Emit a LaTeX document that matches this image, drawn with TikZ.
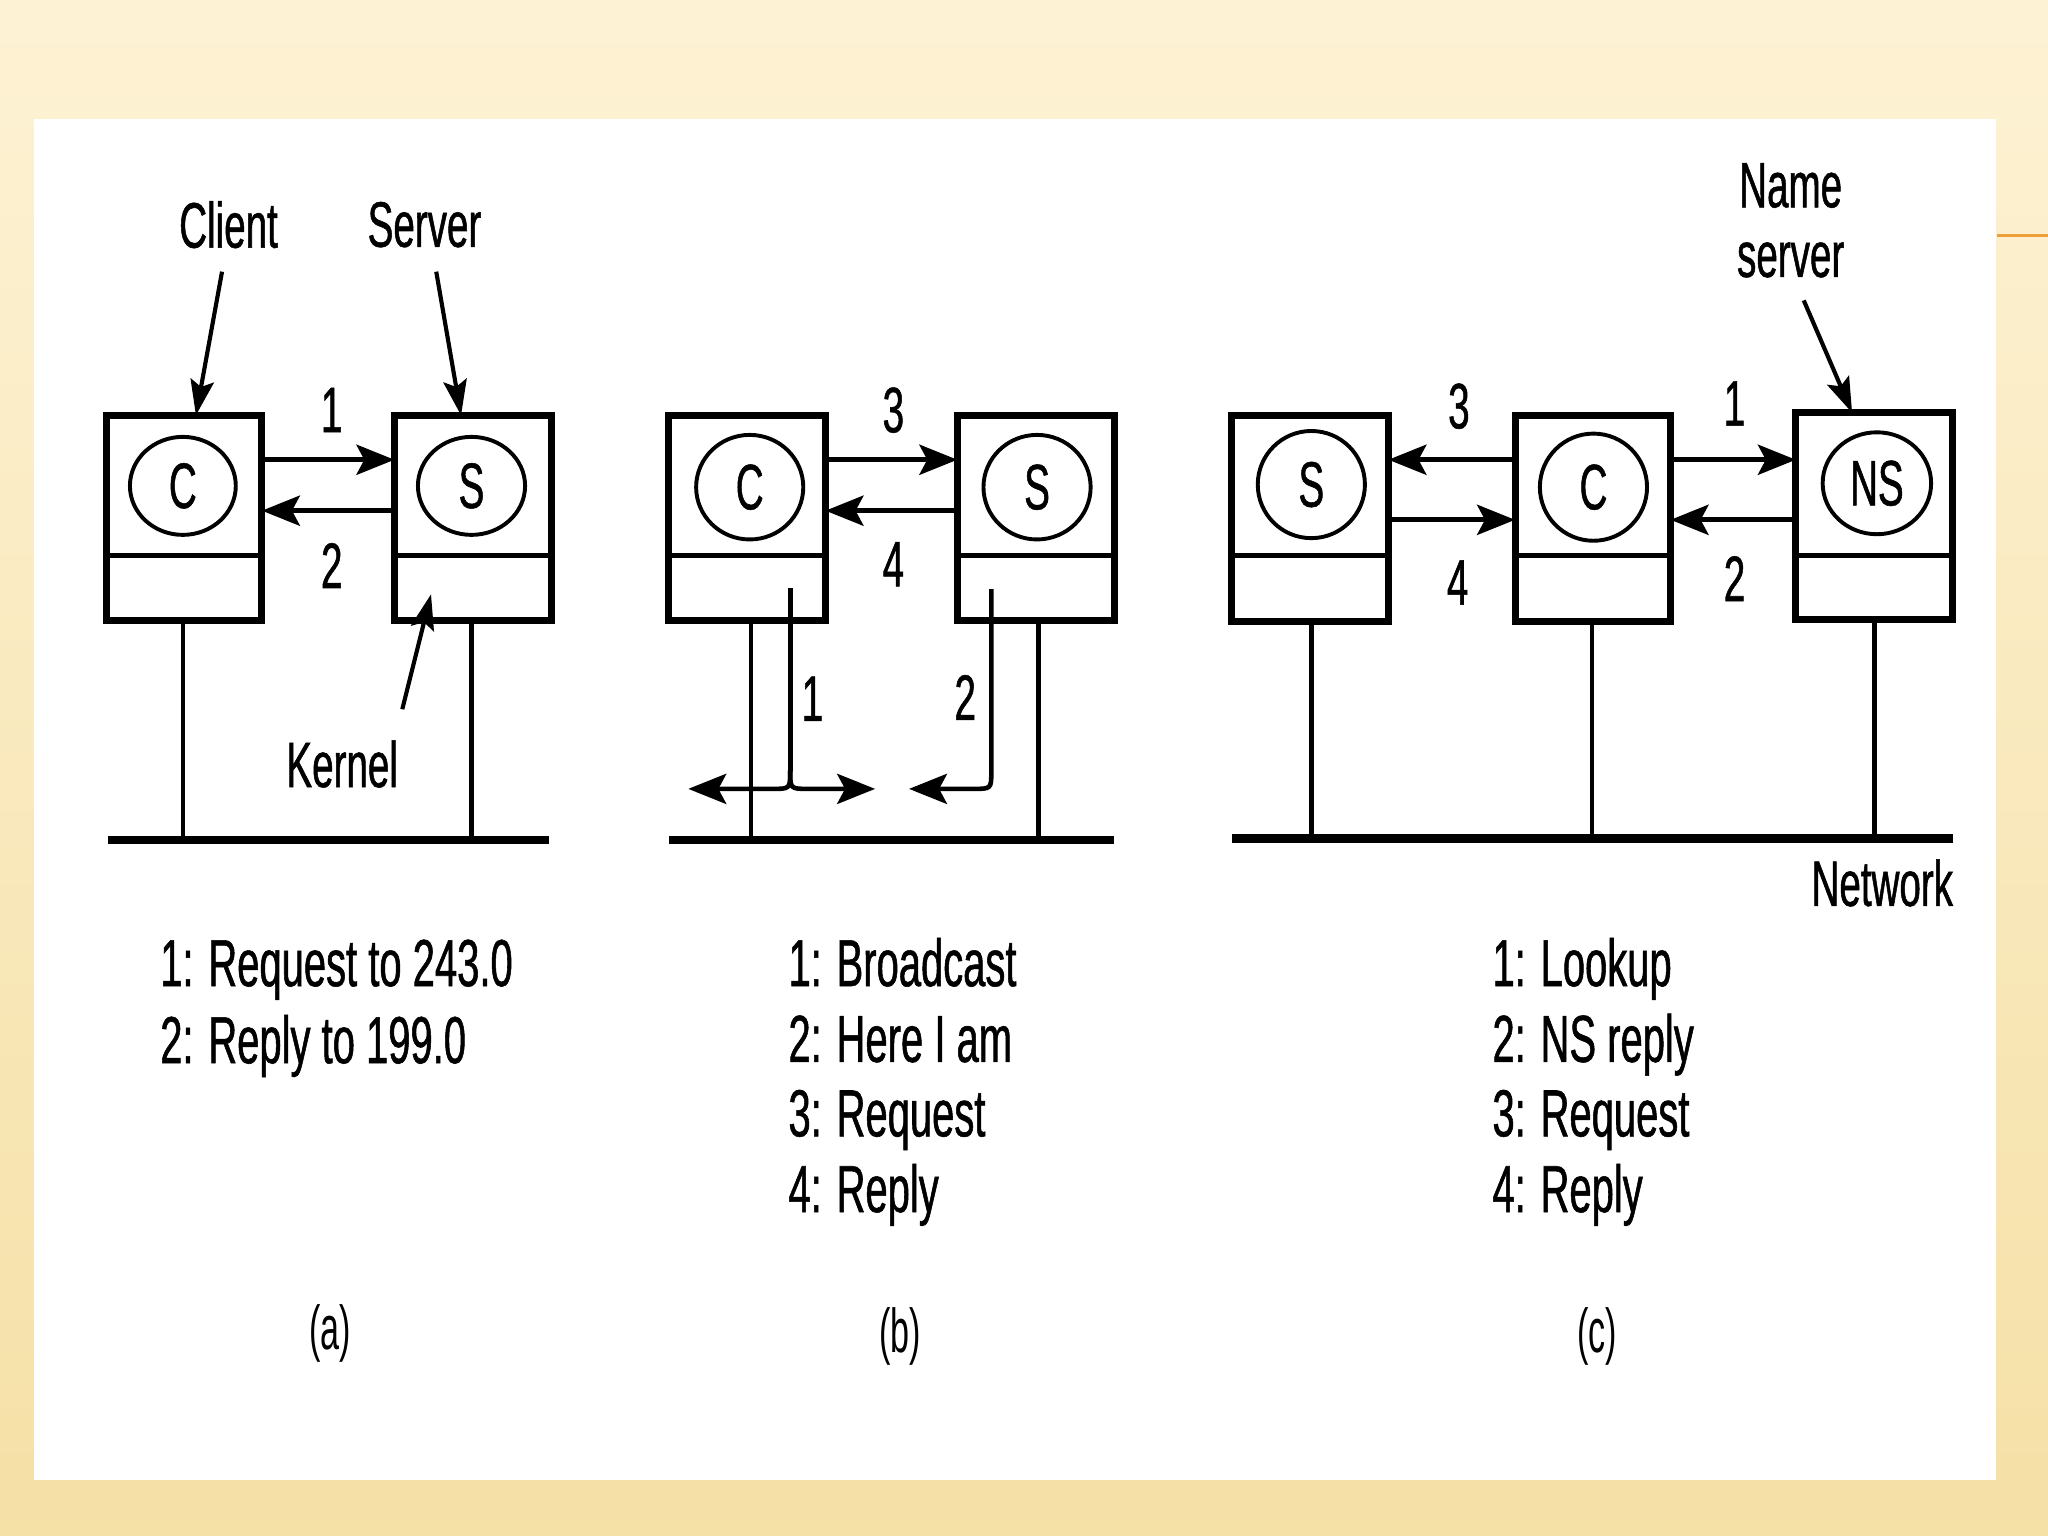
\documentclass[tikz,border=0pt]{standalone}
\usepackage{fontspec}
\newfontfamily\cond[FakeStretch=0.6,FakeBold=0.8]{Liberation Sans}
\newfontfamily\condthin[FakeStretch=0.55]{Liberation Sans}
\usetikzlibrary{arrows.meta,shapes.geometric}
\definecolor{bgtop}{RGB}{253,242,212}
\definecolor{bgbot}{RGB}{245,224,166}
\definecolor{orangeline}{RGB}{238,158,58}
\newcommand\lblfont{\cond\fontsize{14}{16}\selectfont}
\newcommand\legfont{\cond\fontsize{14.5}{17}\selectfont}
\newcommand\capfont{\condthin\fontsize{13.5}{16}\selectfont}
\begin{document}
\begin{tikzpicture}[x=0.01cm, y=-0.01cm,
  hostbox/.style={draw, line width=1.5pt, minimum width=1.19cm, minimum height=1.57cm, inner sep=0pt, outer sep=0pt},
  proc/.style={draw, ellipse, line width=0.85pt, minimum width=0.82cm, minimum height=0.8cm, inner sep=0pt, font=\lblfont},
  conn/.style={line width=1.1pt, -{Stealth[length=2.9mm,width=2.3mm,inset=0.6mm]}},
  ptr/.style={line width=0.9pt, -{Stealth[length=2.7mm,width=1.8mm,inset=0.5mm]}},
  divline/.style={line width=1.05pt},
  drop/.style={line width=1.0pt},
  net/.style={line width=1.8pt},
  lbl/.style={inner sep=0pt, font=\lblfont},
  leg/.style={inner sep=0pt, anchor=base west, font=\legfont},
  subcap/.style={inner sep=0pt, font=\capfont}
]
\useasboundingbox (0,0) rectangle (1568,1176);
% background
\begin{scope}[y=0.01cm]
  \shade[top color=bgtop, bottom color=bgbot] (0,-1176) rectangle (1568,0);
\end{scope}
\fill[white] (26,91) rectangle (1528,1133);
\draw[orangeline, line width=0.7pt] (1529,180.5) -- (1568,180.5);

% helper levels
\coordinate (yd) at (0,425);
\coordinate (yu) at (0,352);
\coordinate (yl) at (0,391);
\coordinate (ylc) at (0,398);
\coordinate (ynet) at (0,643);

% ================= (a) =================
\node[hostbox] (ac) at (141,396.5) {};
\node[hostbox, minimum width=1.2cm] (as) at (362,396.5) {};
\draw[divline] (ac.west |- yd) -- (ac.east |- yd);
\draw[divline] (as.west |- yd) -- (as.east |- yd);
\node[proc, minimum width=0.81cm, minimum height=0.75cm] (acp) at (140,372) {C};
\node[proc, minimum width=0.82cm, minimum height=0.75cm] (asp) at (361,372) {S};
\draw[conn] (ac.east |- yu) -- (as.west |- yu);
\draw[conn] (as.west |- yl) -- (ac.east |- yl);
\node[lbl] (a1) at (254,314) {1};
\node[lbl] (a2) at (254,433) {2};
\node[lbl] (clientl) at (175,172) {Client};
\node[lbl] (serverl) at (325,172) {Server};
\node[lbl] (kernell) at (262,585) {Kernel};
\coordinate (ctail) at (170,208);
\coordinate (stail) at (334,208);
\coordinate (ktail) at (308,543);
\coordinate (ktip) at (330,455);
\draw[ptr] (ctail) -- (ac.north -| 150,0);
\draw[ptr] (stail) -- (as.north -| 353,0);
\draw[ptr] (ktail) -- (ktip);
\coordinate (anl) at (83,643);
\coordinate (anr) at (420,643);
\draw[net] (anl) -- (anr);
\draw[drop] (ac.south -| 140,0) -- (140,643);
\draw[drop] (as.south -| 361,0) -- (361,643);
\node[leg] (la1) at (122,755) {1: Request to 243.0};
\node[leg] (la2) at (122,814) {2: Reply to 199.0};
\node[subcap] (capa) at (253,1021) {(a)};

% ================= (b) =================
\node[hostbox, minimum width=1.2cm] (bc) at (572,396.5) {};
\node[hostbox, minimum width=1.2cm] (bs) at (793,396.5) {};
\draw[divline] (bc.west |- yd) -- (bc.east |- yd);
\draw[divline] (bs.west |- yd) -- (bs.east |- yd);
\node[proc] (bcp) at (574,373) {C};
\node[proc] (bsp) at (794,373) {S};
\draw[conn] (bc.east |- yu) -- (bs.west |- yu);
\draw[conn] (bs.west |- yl) -- (bc.east |- yl);
\node[lbl] (b3) at (684,314) {3};
\node[lbl] (b4) at (684,432) {4};
\coordinate (bnl) at (512,643);
\coordinate (bnr) at (853,643);
\draw[net] (bnl) -- (bnr);
\draw[drop] (bc.south -| 575,0) -- (575,643);
\draw[drop] (bs.south -| 795,0) -- (795,643);
% broadcast 1
\coordinate (b1top) at (605,450);
\coordinate (b1mid) at (605,590);
\coordinate (b1l) at (527,604);
\coordinate (b1r) at (670,604);
\draw[drop] (b1top) -- (b1mid);
\draw[conn, line width=1.0pt] (b1mid) .. controls (605,604) .. (619,604) -- (b1r);
\draw[conn, line width=1.0pt] (b1mid) .. controls (605,604) .. (591,604) -- (b1l);
\node[lbl] (b1) at (622,535) {1};
% reply 2
\coordinate (b2top) at (759,451);
\coordinate (b2mid) at (759,590);
\coordinate (b2end) at (696,604);
\draw[conn, line width=1.0pt] (b2top) -- (b2mid) .. controls (759,604) .. (745,604) -- (b2end);
\node[lbl] (b2) at (739,534) {2};
\node[leg] (lb1) at (603,755) {1: Broadcast};
\node[leg] (lb2) at (603,813) {2: Here I am};
\node[leg] (lb3) at (603,870) {3: Request};
\node[leg] (lb4) at (603,928) {4: Reply};
\node[subcap] (capb) at (689,1023) {(b)};

% ================= (c) =================
\node[hostbox, minimum width=1.2cm, minimum height=1.58cm] (cs) at (1003,397) {};
\node[hostbox, minimum width=1.19cm, minimum height=1.58cm] (cc) at (1219.5,397) {};
\node[hostbox, minimum width=1.2cm, minimum height=1.58cm] (cns) at (1435,395) {};
\draw[divline] (cs.west |- yd) -- (cs.east |- yd);
\draw[divline] (cc.west |- yd) -- (cc.east |- yd);
\draw[divline] (cns.west |- yd) -- (cns.east |- yd);
\node[proc, minimum height=0.82cm] (csp) at (1004,371) {S};
\node[proc, minimum height=0.82cm] (ccp) at (1220,373) {C};
\node[proc, minimum width=0.83cm, minimum height=0.78cm] (cnsp) at (1437,370) {NS};
\draw[conn] (cc.west |- yu) -- (cs.east |- yu);
\draw[conn] (cs.east |- ylc) -- (cc.west |- ylc);
\draw[conn] (cc.east |- yu) -- (cns.west |- yu);
\draw[conn] (cns.west |- ylc) -- (cc.east |- ylc);
\node[lbl] (c3) at (1117,311) {3};
\node[lbl] (c4) at (1116,446) {4};
\node[lbl] (c1) at (1328,309) {1};
\node[lbl] (c2) at (1328,443) {2};
\node[lbl] (namel) at (1371,142) {Name};
\node[lbl] (serverl2) at (1371,199) {server};
\coordinate (nstail) at (1381,230);
\draw[ptr] (nstail) -- (cns.north -| 1418,0);
\coordinate (cnl) at (943,642);
\coordinate (cnr) at (1495,642);
\draw[net] (cnl) -- (cnr);
\draw[drop] (cs.south -| 1004,0) -- (1004,642);
\draw[drop] (cc.south -| 1219,0) -- (1219,642);
\draw[drop] (cns.south -| 1435,0) -- (1435,642);
\node[lbl, anchor=east] (netl) at (1496,676) {Network};
\node[leg] (lc1) at (1142,755) {1: Lookup};
\node[leg] (lc2) at (1142,813) {2: NS reply};
\node[leg] (lc3) at (1142,870) {3: Request};
\node[leg] (lc4) at (1142,928) {4: Reply};
\node[subcap] (capc) at (1223,1023) {(c)};
\end{tikzpicture}
\end{document}
